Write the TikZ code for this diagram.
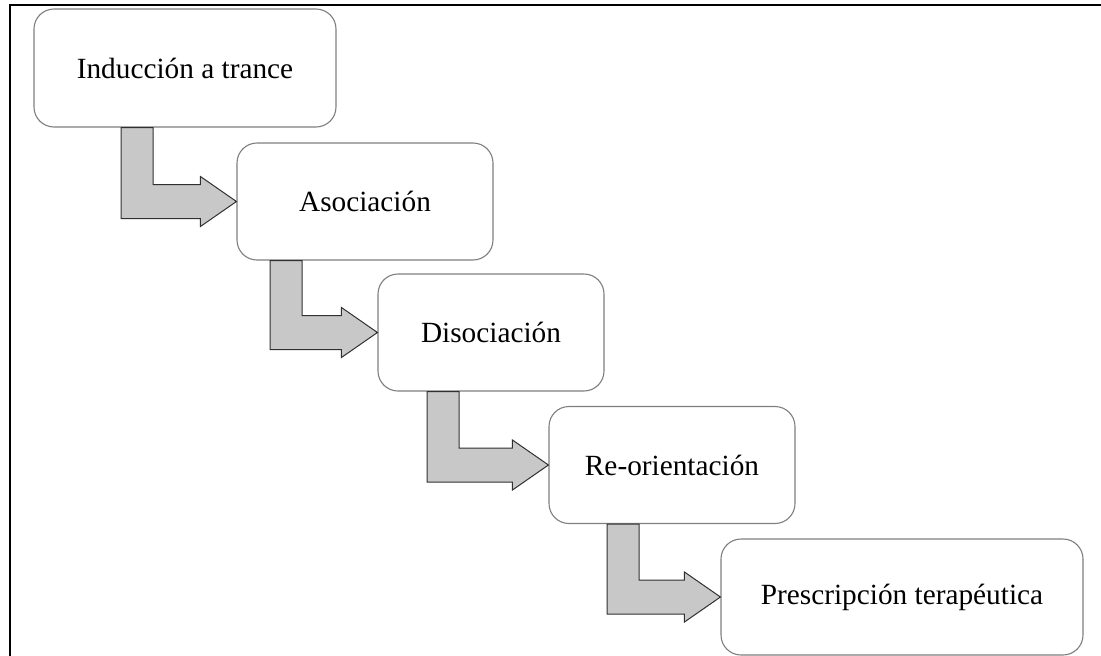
\documentclass[tikz,border=0pt]{standalone}
\usepackage{fontspec}
\setmainfont{Liberation Serif}
\usetikzlibrary{calc}
\definecolor{boxline}{HTML}{7F7F7F}
\definecolor{arrowfill}{HTML}{C8C8C8}
\definecolor{arrowline}{HTML}{303030}
\tikzset{
  stage/.style={draw=boxline, line width=1.1pt, fill=white, rounded corners=20pt,
    inner sep=0pt, align=center, font=\fontsize{29.3}{35}\selectfont},
  bent/.style={draw=arrowline, line width=1pt, fill=arrowfill, line join=miter},
  frameline/.style={line width=2pt, black}
}
% bent block arrow: vertical shaft at x=#3 (left edge) under #1, turning right into #2
\newcommand{\bentarrow}[3]{%
  \path[bent] let \p1=(#2.west), \p2=(#1.south) in
    (#3pt,\y2) -- (#3pt,\y1-17pt) -- (\x1-36pt,\y1-17pt) -- (\x1-36pt,\y1-25pt)
    -- (\x1,\y1) -- (\x1-36pt,\y1+25pt) -- (\x1-36pt,\y1+17pt)
    -- (#3pt+32pt,\y1+17pt) -- (#3pt+32pt,\y2) -- cycle;}
\begin{document}
\begin{tikzpicture}[x=1pt,y=-1pt]
  \useasboundingbox (0,0) rectangle (1101,656);
  % page frame
  \draw[frameline] (10,656) -- (10,5) -- (1101,5);
  % stages
  \node[stage, minimum width=302pt, minimum height=118pt] (s1) at (185,68) {Inducción a trance};
  \node[stage, minimum width=256pt, minimum height=117pt] (s2) at (365,201.5) {Asociación};
  \node[stage, minimum width=226pt, minimum height=117pt] (s3) at (491,332.5) {Disociación};
  \node[stage, minimum width=246pt, minimum height=117pt] (s4) at (672,465) {Re-orientación};
  \node[stage, minimum width=362pt, minimum height=116pt] (s5) at (902,597) {Prescripción terapéutica};
  % connectors
  \bentarrow{s1}{s2}{121}
  \bentarrow{s2}{s3}{270}
  \bentarrow{s3}{s4}{427}
  \bentarrow{s4}{s5}{607}
\end{tikzpicture}
\end{document}
